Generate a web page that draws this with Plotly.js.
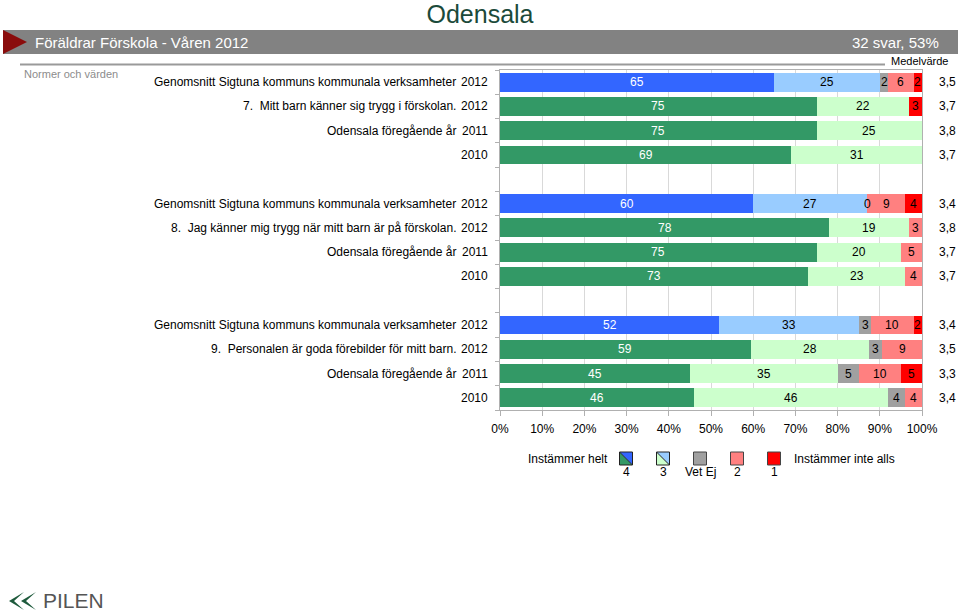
<!DOCTYPE html>
<html><head><meta charset="utf-8">
<script src="https://cdn.plot.ly/plotly-3.0.1.min.js"></script>
<style>body{margin:0;background:#fff}#chart{width:960px;height:613px}</style>
</head><body><div id="chart"></div>
<script>
// ---- data ----
const questions = ["7.\u00a0 Mitt barn känner sig trygg i förskolan.",
                   "8.\u00a0 Jag känner mig trygg när mitt barn är på förskolan.",
                   "9.\u00a0 Personalen är goda förebilder för mitt barn."];
const rowNames = ["Genomsnitt Sigtuna kommuns kommunala verksamheter", "", "Odensala föregående år", ""];
const years = ["2012", "2012", "2011", "2010"];
const seriesNames = ["4", "3", "Vet Ej", "2", "1"];
const v4  = [65, 75, 75, 69,   60, 78, 75, 73,   52, 59.4, 45, 46];
const v3  = [25, 22, 25, 31,   27, 19, 20, 23,   33, 28.1, 35, 46];
const vEj = [2, 0, 0, 0,       0, 0, 0, 0,       3, 3.1, 5, 4];
const v2  = [6, 0, 0, 0,       9, 3, 5, 4,       10, 9.4, 10, 4];
const v1  = [2, 3, 0, 0,       4, 0, 0, 0,       2, 0, 5, 0];
const medel = ["3,5","3,7","3,8","3,7", "3,4","3,8","3,7","3,7", "3,4","3,5","3,3","3,4"];
const xTicks = [0,10,20,30,40,50,60,70,80,90,100];

// ---- styles ----
const FONT = "Liberation Sans, Arial, sans-serif";
const C_BLUE = "#3366ff", C_LBLUE = "#99ccff", C_GREEN = "#339966", C_LGREEN = "#ccffcc",
      C_GRAY = "#a0a0a0", C_PINK = "#ff8080", C_RED = "#ff0000";

// plot area in px: x 500..922, y 70..410
const PX0 = 500, PX1 = 922, PY0 = 70, PY1 = 410;
const px = x => (x - PX0) / (PX1 - PX0);
const py = y => (PY1 - y) / (PY1 - PY0);

const nRows = v4.length;
const slot = i => Math.floor(i / 4) * 5 + (i % 4);
const ys = v4.map((_, i) => slot(i));

const series = [v4, v3, vEj, v2, v1];
const traces = series.map((vals, k) => {
  const col = k === 0 ? ys.map((_, i) => (i % 4 === 0 ? C_BLUE : C_GREEN)) :
              k === 1 ? ys.map((_, i) => (i % 4 === 0 ? C_LBLUE : C_LGREEN)) :
              [null, null, C_GRAY, C_PINK, C_RED][k];
  return {
    type: "bar", orientation: "h", name: seriesNames[k],
    x: vals, y: ys, width: 0.78,
    marker: {color: col, line: {width: 0}},
    hoverinfo: "skip", showlegend: false
  };
});

const annotations = [];
for (let i = 0; i < nRows; i++) {
  let cum = 0;
  series.forEach((vals, k) => {
    const v = vals[i];
    if (v > 0 || i % 4 === 0) {
      annotations.push({
        xref: "x", yref: "y", x: cum + v / 2, y: ys[i], text: String(Math.round(v)),
        showarrow: false, font: {family: FONT, size: 12, color: k === 0 ? "#ffffff" : "#000000"}
      });
    }
    cum += v;
  });
  const g = Math.floor(i / 4), r = i % 4;
  const lbl = r === 1 ? questions[g] : rowNames[r];
  if (lbl) annotations.push({xref: "paper", yref: "y", x: px(458), y: ys[i], xanchor: "right",
    text: lbl, showarrow: false, font: {family: FONT, size: 12, color: "#000"}});
  annotations.push({xref: "paper", yref: "y", x: px(490), y: ys[i], xanchor: "right",
    text: years[r], showarrow: false, font: {family: FONT, size: 12, color: "#000"}});
  annotations.push({xref: "paper", yref: "y", x: px(947), y: ys[i], xanchor: "center",
    text: medel[i], showarrow: false, font: {family: FONT, size: 12, color: "#000"}});
}
annotations.push({xref: "paper", yref: "paper", x: px(33), y: py(42), xanchor: "left", yanchor: "middle",
  text: "Föräldrar Förskola - Våren 2012", showarrow: false, font: {family: FONT, size: 15, color: "#ffffff"}});
annotations.push({xref: "paper", yref: "paper", x: px(941), y: py(42), xanchor: "right", yanchor: "middle",
  text: "32 svar, 53%", showarrow: false, font: {family: FONT, size: 15, color: "#ffffff"}});
annotations.push({xref: "paper", yref: "paper", x: px(919), y: py(61), xanchor: "center", yanchor: "middle",
  text: "Medelvärde", showarrow: false, font: {family: FONT, size: 11, color: "#000"}});
annotations.push({xref: "paper", yref: "paper", x: px(22), y: py(74), xanchor: "left", yanchor: "middle",
  text: "Normer och värden", showarrow: false, font: {family: FONT, size: 11, color: "#8c8c8c"}});
annotations.push({xref: "paper", yref: "paper", x: px(610), y: py(459), xanchor: "right", yanchor: "middle",
  text: "Instämmer helt", showarrow: false, font: {family: FONT, size: 12, color: "#000"}});
annotations.push({xref: "paper", yref: "paper", x: px(792), y: py(459), xanchor: "left", yanchor: "middle",
  text: "Instämmer inte alls", showarrow: false, font: {family: FONT, size: 12, color: "#000"}});
const legX = [626, 663, 700, 737, 774];
seriesNames.forEach((n, k) => annotations.push({xref: "paper", yref: "paper", x: px(legX[k]), y: py(472),
  xanchor: "center", yanchor: "middle", text: n, showarrow: false, font: {family: FONT, size: 12, color: "#000"}}));
annotations.push({xref: "paper", yref: "paper", x: px(41), y: py(600), xanchor: "left", yanchor: "middle",
  text: "PILEN", showarrow: false, font: {family: FONT, size: 21, color: "#555555"}});

const P = (pts) => "M " + pts.map(p => px(p[0]) + "," + py(p[1])).join(" L ") + " Z";
const shapes = [
  {type: "rect", xref: "paper", yref: "paper", x0: px(3), x1: px(958), y0: py(54), y1: py(30),
   fillcolor: "#828282", line: {width: 0}, layer: "below"},
  {type: "path", xref: "paper", yref: "paper", path: P([[3,30],[27,42],[3,54]]), fillcolor: "#8a0c0c", line: {width: 0}},
  {type: "line", xref: "paper", yref: "paper", x0: px(20), x1: px(885), y0: py(64.5), y1: py(64.5),
   line: {color: "#9a9a9a", width: 2}},
  {type: "path", xref: "paper", yref: "paper", path: P([[24,592],[9,601],[24,610],[14,601]]), fillcolor: "#1e5a3c", line: {width: 0}},
  {type: "path", xref: "paper", yref: "paper", path: P([[36,592],[21,601],[36,610],[26,601]]), fillcolor: "#1e5a3c", line: {width: 0}}
];
const boxFills = [[C_GREEN, C_BLUE], [C_LGREEN, C_LBLUE], [C_GRAY], [C_PINK], [C_RED]];
legX.forEach((cx, k) => {
  const x0 = cx - 6.5, x1 = cx + 6.5, y0 = 452, y1 = 465;
  if (boxFills[k].length === 2) {
    shapes.push({type: "path", xref: "paper", yref: "paper", path: P([[x0,y0],[x0,y1],[x1,y1]]), fillcolor: boxFills[k][0], line: {width: 0}});
    shapes.push({type: "path", xref: "paper", yref: "paper", path: P([[x0,y0],[x1,y0],[x1,y1]]), fillcolor: boxFills[k][1], line: {width: 0}});
    shapes.push({type: "line", xref: "paper", yref: "paper", x0: px(x0), y0: py(y0), x1: px(x1), y1: py(y1), line: {color: "#222", width: 1}});
    shapes.push({type: "rect", xref: "paper", yref: "paper", x0: px(x0), x1: px(x1), y0: py(y1), y1: py(y0), line: {color: "#222", width: 1}});
  } else {
    shapes.push({type: "rect", xref: "paper", yref: "paper", x0: px(x0), x1: px(x1), y0: py(y1), y1: py(y0),
      fillcolor: boxFills[k][0], line: {color: "#444", width: 1}});
  }
});

const nSlots = slot(nRows - 1) + 1;
const yBounds = Array.from({length: nSlots + 1}, (_, j) => j - 0.5);

const layout = {
  width: 960, height: 613,
  margin: {l: PX0, r: 960 - PX1, t: PY0, b: 613 - PY1},
  paper_bgcolor: "#ffffff", plot_bgcolor: "#ffffff",
  barmode: "stack", bargap: 0,
  font: {family: FONT, size: 12, color: "#000"},
  title: {text: "Odensala", xref: "container", yref: "container", x: 0.5, xanchor: "center",
          y: 1 - 14 / 613, yanchor: "middle", font: {family: FONT, size: 25, color: "#1b4a3a"}},
  xaxis: {range: [0, 100], tickvals: xTicks, ticktext: xTicks.map(t => t + "%"),
          showgrid: true, gridcolor: "#d9d9d9", gridwidth: 1, zeroline: false,
          showline: true, linecolor: "#b0b0b0", mirror: true, ticks: "outside", ticklen: 5, tickcolor: "#b0b0b0",
          ticklabelstandoff: 3, tickfont: {family: FONT, size: 12, color: "#000"}, fixedrange: true},
  yaxis: {range: [nSlots - 0.5, -0.5], tickvals: yBounds, showticklabels: false, showgrid: false, zeroline: false,
          showline: true, linecolor: "#b0b0b0", mirror: true, ticks: "outside", ticklen: 4, tickcolor: "#b0b0b0", fixedrange: true},
  annotations: annotations, shapes: shapes, showlegend: false
};
Plotly.newPlot("chart", traces, layout, {displayModeBar: false, staticPlot: true});
</script></body></html>
